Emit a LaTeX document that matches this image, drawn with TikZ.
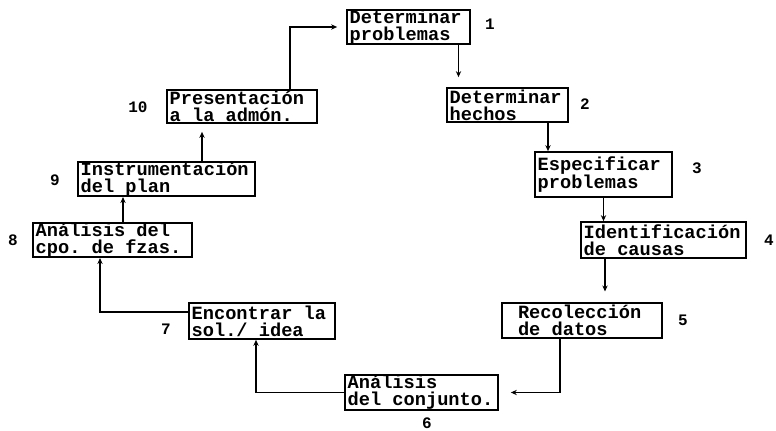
\documentclass[tikz,border=0pt]{standalone}
\usepackage{fontspec}
\setmonofont{Liberation Mono}
\usetikzlibrary{arrows.meta,calc}
\newcommand{\wsp}{\hspace{8.4pt}}
\tikzset{
  >={Stealth[length=4.5pt,width=4pt]},
  stage/.style={draw,line width=1.3pt,inner xsep=2pt,inner ysep=0pt,align=left,
    font=\ttfamily\bfseries\fontsize{14}{12.75}\selectfont},
  num/.style={font=\ttfamily\bfseries\fontsize{12}{12}\selectfont},
  flow/.style={->,line width=1.4pt},
}

\begin{document}
\begin{tikzpicture}[x=0.75pt,y=-0.75pt]
  \useasboundingbox (0,0) rectangle (776,431);
  % stages of the cycle
  \node[stage,text width=88.25pt,minimum height=25.5pt] (b1) at (408.5,27) {Determinar\\problemas};
  \node[stage,text width=86.75pt,minimum height=25.5pt] (b2) at (507.5,105) {Determinar\\hechos};
  \node[stage,text width=98.75pt,minimum height=33.75pt] (b3) at (603.5,174.5) {Especificar\\problemas};
  \node[stage,text width=119.75pt,minimum height=27pt] (b4) at (663.5,240) {Identificación\\de\wsp causas};
  \node[stage,inner xsep=12pt,text width=96pt,minimum height=26.25pt] (b5) at (582,320.5) {Recolección\\de\wsp datos};
  \node[stage,text width=110.75pt,minimum height=26.25pt] (b6) at (421.5,392.5) {Análisis\\del\wsp conjunto.};
  \node[stage,text width=105.5pt,minimum height=27pt] (b7) at (262,321) {Encontrar\wsp la\\sol./\wsp idea};
  \node[stage,text width=115.25pt,minimum height=25.5pt] (b8) at (112.5,240) {Análisis\wsp del\\cpo.\wsp de\wsp fzas.};
  \node[stage,text width=128.75pt,minimum height=24pt] (b9) at (166.5,179) {Instrumentación\\del\wsp plan};
  \node[stage,text width=108.5pt,minimum height=24.75pt] (b10) at (242,106.5) {Presentación\\a\wsp la\wsp admón.};

  % numbers
  \node[num] (n1) at (490,24) {1};
  \node[num] (n2) at (585,104) {2};
  \node[num] (n3) at (697,168) {3};
  \node[num] (n4) at (769,240) {4};
  \node[num] (n5) at (683,320) {5};
  \node[num] (n6) at (427,423) {6};
  \node[num] (n7) at (166,329) {7};
  \node[num] (n8) at (13,240) {8};
  \node[num] (n9) at (55,180) {9};
  \node[num] (n10) at (138,107) {10};

  % connectors
  \draw[flow,shorten >=7.5pt] ($(b1.south)+(50,0)$) coordinate (t1) -- (t1 |- b2.north);
  \draw[flow] ($(b2.south)+(40.5,0)$) coordinate (t2) -- (t2 |- b3.north);
  \draw[flow] (b3.south) -- (b3.south |- b4.north);
  \draw[flow,shorten >=8pt] ($(b4.south)+(-58.5,0)$) coordinate (t4) -- (t4 |- b5.north);
  \draw[flow,shorten >=9pt] ($(b5.south)+(-22,0)$) |- (b6.east);
  \draw[flow] (b6.west) -| ($(b7.south)+(-6,0)$);
  \draw[flow] ($(b7.west)+(0,-9)$) -| ($(b8.south)+(-12.5,0)$);
  \draw[flow] ($(b8.north)+(10.5,0)$) coordinate (t8) -- (t8 |- b9.south);
  \draw[flow,shorten >=6pt] ($(b9.north)+(35.5,0)$) coordinate (t9) -- (t9 |- b10.south);
  \draw[flow,shorten >=6.75pt] ($(b10.north)+(48,0)$) |- (b1.west);
\end{tikzpicture}
\end{document}
